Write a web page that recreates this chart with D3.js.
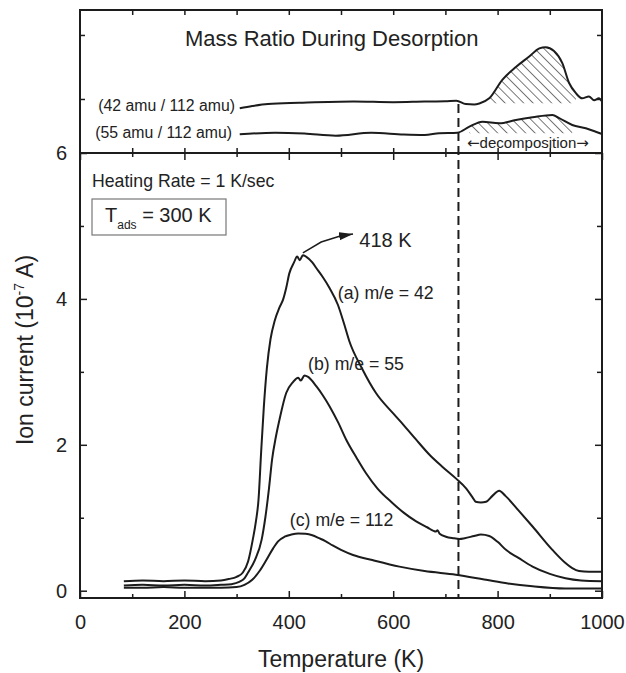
<!DOCTYPE html>
<html>
<head>
<meta charset="utf-8">
<script src="https://cdn.jsdelivr.net/npm/d3@7"></script>
<style>
  body { margin: 0; background: #fff; }
  svg { display: block; font-family: "Liberation Sans", Arial, Helvetica, sans-serif; }
  .tick text { fill: #222; }
</style>
</head>
<body>
<svg id="chart"></svg>
<script>
// main panel: ion current (10^-7 A) vs temperature (K)
const tempA = [84,120,160,200,240,270,285,300,312,322,331,337,342,347,352,358,365,373,382,389,395,401,410,416,421,427,433,445,453,465,478,494,505,516,540,567,600,620,644,670,694,720,740,752,758,768,778,790,803,815,840,867,905,930,943,956,975,1000];
const valA  = [0.13,0.14,0.13,0.14,0.13,0.14,0.16,0.19,0.25,0.4,0.7,0.95,1.25,1.9,2.5,3.05,3.45,3.7,3.88,3.99,4.15,4.35,4.5,4.58,4.53,4.6,4.58,4.5,4.42,4.3,4.15,3.92,3.68,3.42,3.05,2.71,2.43,2.27,2.07,1.86,1.70,1.54,1.40,1.28,1.22,1.21,1.22,1.30,1.37,1.30,1.10,0.88,0.56,0.38,0.31,0.27,0.26,0.26];

const tempB = [84,120,160,200,240,270,290,305,315,322,335,348,355,362,368,375,382,395,408,418,423,430,437,453,465,478,495,510,530,548,570,599,620,644,665,682,685,689,701,715,727,737,755,768,784,800,816,840,867,900,930,960,1000];
const valB  = [0.07,0.08,0.07,0.08,0.07,0.08,0.09,0.12,0.17,0.25,0.42,0.7,1.0,1.4,1.8,2.1,2.34,2.71,2.86,2.92,2.88,2.95,2.93,2.8,2.68,2.53,2.3,2.07,1.82,1.61,1.40,1.20,1.07,0.95,0.87,0.81,0.83,0.78,0.74,0.72,0.71,0.72,0.75,0.77,0.75,0.67,0.56,0.45,0.33,0.23,0.17,0.14,0.13];

const tempC = [84,120,160,200,240,270,300,315,330,345,357,370,380,392,405,418,432,445,458,470,484,500,523,560,612,660,720,778,820,867,930,1000];
const valC  = [0.04,0.04,0.05,0.04,0.04,0.04,0.05,0.08,0.15,0.28,0.42,0.58,0.68,0.74,0.77,0.785,0.78,0.76,0.72,0.68,0.62,0.56,0.49,0.42,0.33,0.27,0.22,0.15,0.10,0.06,0.03,0.03];

// top panel: mass ratios (arbitrary units)
const tempR42 = [306,330,360,420,524,600,660,700,721,739,755,765,784,809,835,860,880,892,908,924,937,950,962,975,985,994,1000];
const valR42  = [1.855,1.89,1.922,1.94,1.96,1.95,1.96,1.965,1.973,1.92,1.915,1.93,2.01,2.30,2.50,2.66,2.79,2.81,2.75,2.56,2.25,2.09,2.01,2.04,1.98,2.01,1.96];

const tempR55 = [306,374,430,490,558,620,660,688,723,746,771,803,835,867,905,918,943,969,988,1000];
const valR55  = [1.448,1.473,1.46,1.427,1.473,1.445,1.4375,1.464,1.473,1.567,1.645,1.62,1.672,1.714,1.75,1.70,1.594,1.542,1.489,1.453];

const xMajor = [0,200,400,600,800,1000];
const xMinor = [100,300,500,700,900];
const yMajor = [0,2,4,6];
const yMinor = [1,3,5];
const topTicksX = [100,200,300,400,500,600,700,800,900];
const topTicksY = [2,3];

const decompT = 725;

const width = 626, height = 673;

const svg = d3.select("#chart")
  .attr("width", width)
  .attr("height", height);

const x = d3.scaleLinear().domain([0, 1000]).range([80, 602]);
const yMain = d3.scaleLinear().domain([-0.1, 6]).range([598, 153]);
const yTop = d3.scaleLinear().domain([1.156, 3.39]).range([153, 10]);

const ink = "#1c1c1c";

const defs = svg.append("defs");
defs.append("pattern")
  .attr("id", "hatch")
  .attr("patternUnits", "userSpaceOnUse")
  .attr("width", 6.6)
  .attr("height", 6.6)
  .attr("patternTransform", "rotate(-45)")
  .append("line")
  .attr("x1", 0).attr("y1", 0).attr("x2", 0).attr("y2", 6.6)
  .attr("stroke", "#333")
  .attr("stroke-width", 1.3);

defs.append("marker")
  .attr("id", "arrow")
  .attr("markerUnits", "userSpaceOnUse")
  .attr("markerWidth", 15)
  .attr("markerHeight", 9)
  .attr("refX", 14)
  .attr("refY", 4)
  .attr("orient", "auto")
  .append("path")
  .attr("d", "M0,0 L14,4 L0,8 Z")
  .attr("fill", ink);

const zip = (ts, vs) => ts.map((t, i) => ({ t, v: vs[i] }));

// hatched regions in the ratio panel
function hatch(ts, vs, t0, t1, base) {
  const pts = zip(ts, vs).filter(d => d.t >= t0 && d.t <= t1);
  const area = d3.area()
    .x(d => x(d.t))
    .y0(yTop(base))
    .y1(d => Math.min(yTop(d.v), yTop(base)))
    .curve(d3.curveMonotoneX);
  svg.append("path")
    .attr("d", area(pts))
    .attr("fill", "url(#hatch)");
}
hatch(tempR42, valR42, 770, 957, 1.933);
hatch(tempR55, valR55, 735, 965, 1.464);

const lineTop = d3.line()
  .x(d => x(d.t))
  .y(d => yTop(d.v))
  .curve(d3.curveMonotoneX);

const lineMain = d3.line()
  .x(d => x(d.t))
  .y(d => yMain(d.v))
  .curve(d3.curveMonotoneX);

[[tempR42, valR42], [tempR55, valR55]].forEach(([ts, vs]) => {
  svg.append("path")
    .attr("d", lineTop(zip(ts, vs)))
    .attr("fill", "none")
    .attr("stroke", ink)
    .attr("stroke-width", 2);
});

[[tempA, valA], [tempB, valB], [tempC, valC]].forEach(([ts, vs]) => {
  svg.append("path")
    .attr("d", lineMain(zip(ts, vs)))
    .attr("fill", "none")
    .attr("stroke", ink)
    .attr("stroke-width", 2);
});

// decomposition onset
svg.append("line")
  .attr("x1", x(decompT)).attr("x2", x(decompT))
  .attr("y1", yTop(1.92)).attr("y2", yMain(-0.1))
  .attr("stroke", ink)
  .attr("stroke-width", 2)
  .attr("stroke-dasharray", "9,5");

// axes
function noDomain(g) { g.select(".domain").remove(); g.selectAll(".tick line").attr("stroke", ink).attr("stroke-width", 1.5); }
const fmt = d3.format("d");

svg.append("g")
  .attr("transform", `translate(0,${yMain(-0.1)})`)
  .call(d3.axisBottom(x).tickValues(xMajor).tickSize(-7).tickPadding(17).tickFormat(fmt))
  .call(noDomain)
  .call(g => g.selectAll("text").style("font-size", "20px"));
svg.append("g")
  .attr("transform", `translate(0,${yMain(-0.1)})`)
  .call(d3.axisBottom(x).tickValues(xMinor).tickSize(-4).tickFormat(""))
  .call(noDomain);

svg.append("g")
  .attr("transform", `translate(0,${yMain(6)})`)
  .call(d3.axisTop(x).tickValues(xMajor).tickSize(-7).tickFormat(""))
  .call(noDomain);
svg.append("g")
  .attr("transform", `translate(0,${yMain(6)})`)
  .call(d3.axisTop(x).tickValues(xMinor).tickSize(-4).tickFormat(""))
  .call(noDomain);

svg.append("g")
  .attr("transform", `translate(${x(0)},0)`)
  .call(d3.axisLeft(yMain).tickValues(yMajor).tickSize(-7).tickPadding(13).tickFormat(fmt))
  .call(noDomain)
  .call(g => g.selectAll("text").style("font-size", "20px"));
svg.append("g")
  .attr("transform", `translate(${x(0)},0)`)
  .call(d3.axisLeft(yMain).tickValues(yMinor).tickSize(-4).tickFormat(""))
  .call(noDomain);

svg.append("g")
  .attr("transform", `translate(${x(1000)},0)`)
  .call(d3.axisRight(yMain).tickValues(yMajor).tickSize(-7).tickFormat(""))
  .call(noDomain);
svg.append("g")
  .attr("transform", `translate(${x(1000)},0)`)
  .call(d3.axisRight(yMain).tickValues(yMinor).tickSize(-5).tickFormat(""))
  .call(noDomain);

// ratio panel ticks
svg.append("g")
  .attr("transform", `translate(0,${yTop.range()[1]})`)
  .call(d3.axisTop(x).tickValues(topTicksX).tickSize(-5).tickFormat(""))
  .call(noDomain);
svg.append("g")
  .attr("transform", `translate(0,${yTop.range()[0]})`)
  .call(d3.axisBottom(x).tickValues(topTicksX).tickSize(-5).tickFormat(""))
  .call(noDomain);
svg.append("g")
  .attr("transform", `translate(${x(0)},0)`)
  .call(d3.axisLeft(yTop).tickValues(topTicksY).tickSize(-5).tickFormat(""))
  .call(noDomain);
svg.append("g")
  .attr("transform", `translate(${x(1000)},0)`)
  .call(d3.axisRight(yTop).tickValues(topTicksY).tickSize(-5).tickFormat(""))
  .call(noDomain);

// frames
svg.append("rect")
  .attr("x", x(0)).attr("y", yTop.range()[1])
  .attr("width", x(1000) - x(0))
  .attr("height", yTop.range()[0] - yTop.range()[1])
  .attr("fill", "none").attr("stroke", ink).attr("stroke-width", 2);
svg.append("rect")
  .attr("x", x(0)).attr("y", yMain(6))
  .attr("width", x(1000) - x(0))
  .attr("height", yMain(-0.1) - yMain(6))
  .attr("fill", "none").attr("stroke", ink).attr("stroke-width", 2);

// texts
const txt = (px, py, s, size, anchor) => svg.append("text")
  .attr("x", px).attr("y", py)
  .attr("fill", "#222")
  .attr("text-anchor", anchor || "start")
  .style("font-size", size + "px")
  .text(s);

txt(185, 46, "Mass Ratio During Desorption", 22);
txt(235, 111, "(42 amu / 112 amu)", 15.8, "end");
txt(232, 138, "(55 amu / 112 amu)", 15.8, "end");

const decomp = txt(467, 148, "", 15);
decomp.append("tspan").style("font-family", "'DejaVu Sans'").text("\u2190");
decomp.append("tspan").text("decomposition");
decomp.append("tspan").style("font-family", "'DejaVu Sans'").text("\u2192");

txt(92, 187, "Heating Rate = 1 K/sec", 17.7);

svg.append("rect")
  .attr("x", 92).attr("y", 199).attr("width", 134).attr("height", 36)
  .attr("fill", "none").attr("stroke", "#777").attr("stroke-width", 1.2);
const tads = txt(105, 222, "T", 20);
tads.append("tspan").attr("dy", 7).style("font-size", "12px").text("ads");
tads.append("tspan").attr("dy", -7).text(" = 300 K");

txt(x(535), yMain(4.71), "418 K", 20);
svg.append("path")
  .attr("d", d3.line().x(d => x(d[0])).y(d => yMain(d[1]))([[427, 4.63], [462, 4.78], [497, 4.86], [523, 4.89]]))
  .attr("fill", "none")
  .attr("stroke", ink)
  .attr("stroke-width", 1.5)
  .attr("marker-end", "url(#arrow)");

txt(x(494), yMain(4.0), "(a) m/e = 42", 17.7);
txt(x(437), yMain(3.03), "(b) m/e = 55", 17.7);
txt(x(402), yMain(0.887), "(c) m/e = 112", 17.7);

txt((x(0) + x(1000)) / 2, 667, "Temperature (K)", 23, "middle");

const ylab = svg.append("text")
  .attr("transform", "translate(33,350) rotate(-90)")
  .attr("text-anchor", "middle")
  .attr("fill", "#222")
  .style("font-size", "23px")
  .text("Ion current (10");
ylab.append("tspan").attr("dy", -9).style("font-size", "14px").text("-7");
ylab.append("tspan").attr("dy", 9).text(" A)");
</script>
</body>
</html>
